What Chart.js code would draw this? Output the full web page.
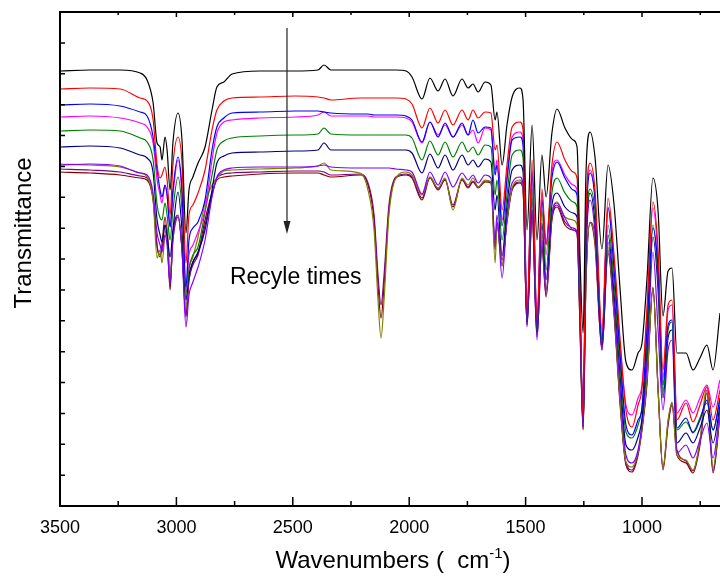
<!DOCTYPE html>
<html>
<head>
<meta charset="utf-8">
<script src="https://cdn.jsdelivr.net/npm/chart.js@4/dist/chart.umd.min.js"></script>
<style>
  html, body { margin: 0; padding: 0; background: #fff; overflow: hidden; }
  canvas { display: block; }
</style>
</head>
<body>
<canvas id="myChart" width="720" height="576"></canvas>
<script>
// FTIR spectra after each recycle (transmittance, arb. units)
var wavenumbers = [3500, 3371, 3242, 3156, 3126, 3100, 3083, 3070, 3062, 3049,
  3040, 3027, 3015, 2993, 2976, 2959, 2946, 2929, 2907, 2877,
  2847, 2826, 2796, 2761, 2641, 2491, 2392, 2366, 2336, 2211,
  2177, 2151, 2134, 2121, 2108, 2087, 2057, 2014, 1988, 1945,
  1911, 1876, 1846, 1812, 1773, 1747, 1726, 1704, 1674, 1649,
  1631, 1623, 1601, 1580, 1558, 1524, 1511, 1494, 1472, 1451,
  1430, 1412, 1387, 1365, 1331, 1296, 1279, 1266, 1253, 1241,
  1223, 1202, 1172, 1146, 1120, 1094, 1069, 1043, 1017, 1000,
  979, 953, 931, 910, 888, 871, 850, 811, 781, 751,
  721, 695, 665];

var black = [87.0, 87.2, 87.2, 86.6, 85.2, 80.6, 72.6, 71.8, 69.2, 73.8,
  71.2, 63.2, 72.6, 78.6, 73.2, 54.6, 63.2, 65.8, 68.6, 71.8,
  79.2, 83.8, 84.8, 86.4, 87.0, 87.0, 87.2, 88.2, 87.2, 87.2,
  87.2, 87.2, 87.2, 87.2, 87.2, 87.2, 87.2, 87.0, 85.8, 81.4,
  85.6, 83.0, 85.4, 82.0, 85.4, 83.6, 84.4, 82.8, 84.8, 84.2,
  77.2, 78.8, 68.2, 76.2, 81.8, 83.6, 81.2, 55.2, 76.2, 53.2,
  70.2, 61.8, 74.6, 79.4, 75.6, 73.2, 71.8, 49.2, 34.6, 66.2,
  74.8, 69.8, 51.4, 68.2, 60.2, 43.2, 28.8, 27.2, 30.6, 32.6,
  45.2, 65.6, 59.0, 38.0, 47.0, 47.6, 30.6, 30.6, 27.2, 29.6,
  32.2, 27.2, 38.6];

var red = [83.4, 83.6, 83.4, 81.6, 81.0, 77.2, 68.2, 65.6, 66.2, 67.8,
  65.2, 58.2, 68.2, 73.8, 68.6, 48.6, 58.2, 60.2, 62.6, 67.2,
  75.2, 79.2, 81.0, 81.6, 81.8, 82.0, 81.8, 81.6, 81.2, 81.6,
  81.6, 81.6, 81.6, 81.6, 81.6, 81.6, 81.6, 81.4, 80.4, 75.6,
  79.6, 76.6, 79.2, 76.2, 79.2, 77.2, 79.2, 77.6, 78.8, 78.6,
  71.2, 72.2, 59.2, 68.2, 75.8, 76.8, 75.2, 38.6, 69.2, 37.2,
  63.4, 52.2, 68.2, 72.8, 69.2, 66.8, 65.6, 41.2, 17.2, 57.2,
  68.6, 63.2, 35.2, 61.6, 50.2, 33.2, 19.2, 15.8, 20.2, 23.6,
  39.2, 60.8, 51.2, 27.2, 40.2, 41.2, 17.2, 20.6, 16.8, 20.2,
  23.8, 17.2, 23.2];

var blue = [80.2, 80.4, 80.0, 78.8, 78.0, 73.8, 67.2, 63.2, 61.8, 64.2,
  62.2, 55.8, 63.2, 69.8, 63.2, 43.8, 53.2, 55.6, 56.8, 61.2,
  71.2, 75.8, 77.6, 78.6, 78.8, 79.0, 79.0, 78.8, 78.6, 78.4,
  78.4, 78.2, 78.2, 78.2, 78.2, 78.2, 78.2, 78.0, 77.2, 72.8,
  76.8, 73.8, 76.6, 73.8, 76.6, 74.2, 77.2, 74.6, 75.8, 75.6,
  66.2, 68.2, 56.0, 65.2, 73.2, 73.8, 72.2, 37.6, 66.8, 36.2,
  61.2, 52.4, 65.6, 68.8, 65.6, 63.2, 62.2, 39.2, 16.6, 54.2,
  66.6, 61.2, 33.2, 59.6, 47.2, 30.2, 16.2, 14.2, 17.2, 19.6,
  35.2, 55.6, 47.2, 24.2, 36.2, 37.2, 15.6, 17.6, 14.6, 17.2,
  21.2, 15.2, 21.6];

var magenta = [77.8, 78.0, 77.6, 76.6, 75.8, 72.6, 65.2, 62.2, 60.6, 64.2,
  62.2, 55.8, 62.2, 69.2, 62.2, 43.2, 50.2, 52.2, 54.8, 59.2,
  69.2, 74.6, 76.8, 77.2, 77.6, 77.8, 78.2, 78.8, 78.0, 78.0,
  78.0, 77.8, 77.8, 77.8, 77.8, 77.8, 77.8, 77.6, 76.8, 72.6,
  76.8, 74.2, 76.2, 73.8, 76.2, 74.2, 75.2, 72.6, 75.6, 75.2,
  67.2, 69.2, 57.2, 66.2, 73.8, 74.8, 73.2, 37.6, 67.2, 36.2,
  62.6, 50.2, 66.8, 69.2, 66.2, 64.2, 63.2, 40.2, 16.2, 55.2,
  67.2, 61.8, 34.2, 59.8, 48.8, 32.2, 20.2, 18.2, 21.6, 24.2,
  38.2, 59.6, 49.2, 25.6, 39.2, 40.2, 18.6, 21.2, 18.6, 21.6,
  24.2, 19.8, 25.2];

var green = [75.0, 75.2, 75.0, 73.6, 72.8, 69.2, 60.2, 57.6, 57.2, 60.6,
  58.2, 53.2, 59.2, 65.8, 59.2, 42.6, 47.6, 50.2, 51.8, 58.8,
  66.2, 71.2, 73.0, 73.6, 74.0, 74.2, 74.4, 75.6, 74.4, 74.2,
  74.2, 74.2, 74.2, 74.2, 74.2, 74.2, 74.2, 74.2, 73.6, 69.2,
  73.0, 70.2, 72.8, 69.8, 72.8, 70.8, 71.8, 70.2, 72.2, 71.8,
  62.2, 65.2, 53.2, 62.2, 70.2, 71.2, 69.6, 37.2, 63.4, 35.2,
  59.2, 47.2, 62.6, 65.6, 62.6, 60.8, 59.8, 38.2, 16.2, 52.2,
  63.4, 58.8, 32.8, 56.2, 44.6, 28.2, 14.8, 13.6, 16.2, 19.8,
  33.2, 56.2, 45.2, 22.8, 35.2, 36.8, 15.2, 16.8, 14.8, 17.6,
  20.6, 15.2, 21.2];

var navy = [71.8, 72.0, 71.6, 70.2, 69.6, 66.6, 57.2, 54.2, 52.8, 56.2,
  54.2, 49.8, 55.2, 62.8, 55.2, 41.2, 46.2, 48.8, 50.8, 55.2,
  63.2, 68.6, 70.0, 70.6, 70.8, 71.0, 71.2, 72.6, 71.2, 71.2,
  71.2, 71.2, 71.2, 71.2, 71.2, 71.2, 71.2, 71.2, 70.6, 66.6,
  70.4, 67.6, 70.2, 67.2, 70.2, 68.2, 69.2, 67.8, 69.4, 68.8,
  59.2, 62.2, 50.0, 60.2, 67.2, 68.2, 66.8, 36.8, 61.6, 34.8,
  56.6, 45.2, 60.2, 62.6, 59.8, 58.6, 57.8, 37.6, 16.0, 50.2,
  62.6, 56.8, 32.2, 54.2, 42.6, 26.2, 12.2, 11.2, 13.8, 17.6,
  31.2, 53.8, 43.2, 21.6, 33.6, 35.2, 12.6, 14.6, 12.6, 15.6,
  19.2, 12.6, 20.2];

var violet = [68.2, 68.4, 68.0, 66.6, 66.2, 62.6, 54.6, 52.2, 50.8, 54.2,
  52.2, 44.6, 53.2, 57.8, 51.2, 35.8, 42.2, 44.8, 47.8, 53.2,
  61.8, 65.8, 67.2, 67.6, 67.8, 67.8, 68.0, 68.2, 67.8, 67.6,
  67.6, 67.6, 67.6, 67.6, 67.6, 67.6, 67.4, 67.2, 66.8, 62.4,
  66.8, 64.2, 66.8, 63.8, 66.6, 65.2, 66.2, 64.6, 66.2, 65.6,
  53.2, 58.2, 45.6, 58.2, 64.6, 65.8, 64.2, 35.8, 59.2, 33.2,
  53.2, 43.2, 58.2, 60.6, 57.6, 55.2, 54.6, 37.2, 15.8, 48.8,
  61.2, 54.8, 31.2, 52.8, 40.2, 23.2, 10.2, 8.6, 11.2, 16.6,
  28.2, 50.8, 35.2, 19.2, 31.2, 33.2, 10.6, 12.2, 9.6, 13.2,
  16.6, 9.6, 19.2];

var olive = [68.4, 68.2, 67.8, 66.6, 65.8, 61.2, 49.6, 51.2, 48.6, 54.2,
  55.8, 46.6, 53.2, 57.8, 52.2, 39.8, 47.2, 49.8, 53.8, 60.6,
  64.2, 65.6, 67.0, 67.2, 67.4, 67.6, 68.0, 68.6, 67.2, 66.6,
  63.2, 55.2, 41.2, 33.6, 41.2, 58.2, 65.6, 66.8, 66.2, 62.2,
  65.8, 63.6, 65.6, 59.2, 65.6, 64.2, 65.6, 63.8, 65.2, 64.8,
  48.6, 56.2, 48.2, 57.2, 63.6, 65.2, 63.6, 36.8, 59.2, 35.2,
  54.6, 43.2, 58.2, 60.8, 57.8, 57.2, 56.2, 35.2, 15.6, 45.2,
  56.6, 53.2, 32.2, 51.8, 39.2, 21.2, 8.8, 7.8, 10.8, 15.6,
  25.2, 43.6, 23.2, 7.6, 17.2, 20.8, 10.2, 9.2, 7.2, 13.2,
  24.2, 7.6, 19.2];

var purple = [67.4, 67.2, 66.8, 66.0, 65.6, 61.6, 52.2, 50.2, 51.2, 56.2,
  54.2, 44.2, 54.2, 58.2, 51.6, 38.2, 45.2, 48.2, 50.2, 56.2,
  62.2, 65.6, 66.4, 66.6, 66.8, 67.0, 67.0, 66.8, 66.2, 66.4,
  64.6, 58.2, 46.2, 40.2, 46.2, 60.2, 65.8, 66.4, 65.8, 61.6,
  65.8, 63.4, 65.4, 60.2, 65.4, 63.8, 65.0, 63.8, 65.0, 64.8,
  51.2, 56.8, 48.0, 57.2, 63.4, 64.8, 63.4, 36.2, 58.2, 33.8,
  52.2, 42.2, 57.6, 60.2, 56.8, 55.6, 54.8, 35.6, 15.4, 44.8,
  56.8, 53.6, 31.6, 51.2, 38.8, 20.8, 8.6, 7.2, 10.6, 15.6,
  24.8, 43.8, 23.6, 7.6, 16.8, 20.6, 11.2, 9.0, 7.0, 12.8,
  23.2, 7.0, 18.6];

var wine = [66.8, 66.6, 66.2, 65.6, 65.2, 61.2, 51.8, 49.8, 52.2, 57.8,
  54.2, 43.2, 54.2, 57.8, 51.2, 37.8, 45.2, 48.8, 50.6, 57.2,
  62.6, 65.2, 65.8, 66.0, 66.4, 66.6, 66.6, 66.2, 65.8, 66.2,
  64.2, 57.2, 44.2, 37.6, 44.2, 59.2, 65.6, 66.2, 65.6, 61.2,
  65.6, 63.2, 65.2, 59.8, 65.2, 63.6, 64.8, 63.6, 64.8, 64.6,
  51.8, 56.2, 49.2, 56.8, 63.2, 64.6, 63.2, 36.2, 57.8, 34.2,
  51.8, 41.8, 57.2, 59.8, 56.2, 55.2, 54.6, 35.2, 15.2, 44.2,
  56.6, 52.2, 31.2, 50.6, 38.2, 20.2, 8.2, 6.8, 10.2, 15.2,
  24.2, 43.6, 23.2, 7.2, 16.2, 20.2, 10.2, 8.6, 6.6, 12.2,
  22.6, 6.6, 18.2];

var majorTicks = [3500, 3000, 2500, 2000, 1500, 1000];
var minorTicks = [3250, 2750, 2250, 1750, 1250, 750];

var xMin = 665, xMax = 3500;
var yMin = 0, yMax = 98.8, yDivisions = 16;

// arrow + note, in data units
var arrowX = 2525, arrowTop = 95.6, arrowBottom = 54.4;
var noteX = 2770, noteY = 44.4, noteText = 'Recyle times';

var FONT = 'Arial, "Liberation Sans", sans-serif';

var series = [
  { data: black, color: '#000000' },
  { data: red, color: '#ff0000' },
  { data: blue, color: '#0000ff' },
  { data: magenta, color: '#ff00ff' },
  { data: green, color: '#008000' },
  { data: navy, color: '#000080' },
  { data: violet, color: '#8000ff' },
  { data: olive, color: '#808000' },
  { data: purple, color: '#800080' },
  { data: wine, color: '#800000' }
];

var datasets = series.map(function (s) {
  return {
    data: wavenumbers.map(function (w, i) { return { x: w, y: s.data[i] }; }),
    borderColor: s.color,
    borderWidth: 1.2,
    pointRadius: 0,
    fill: false,
    cubicInterpolationMode: 'monotone'
  };
});

// Origin-style frame: inward ticks, no y labels
var framePlugin = {
  id: 'frame',
  afterDatasetsDraw: function (chart) {
    var ctx = chart.ctx;
    var area = chart.chartArea;
    var xs = chart.scales.x;
    var ys = chart.scales.y;
    ctx.save();
    ctx.strokeStyle = '#000';
    ctx.lineWidth = 2;
    ctx.beginPath();
    ctx.moveTo(area.right + 2, area.top);
    ctx.lineTo(area.left, area.top);
    ctx.lineTo(area.left, area.bottom);
    ctx.lineTo(area.right + 2, area.bottom);
    ctx.stroke();

    ctx.lineWidth = 1.5;
    ctx.beginPath();
    majorTicks.forEach(function (v) {
      var px = xs.getPixelForValue(v);
      ctx.moveTo(px, area.bottom); ctx.lineTo(px, area.bottom - 9);
      ctx.moveTo(px, area.top); ctx.lineTo(px, area.top + 5);
    });
    minorTicks.forEach(function (v) {
      var px = xs.getPixelForValue(v);
      ctx.moveTo(px, area.bottom); ctx.lineTo(px, area.bottom - 5);
      ctx.moveTo(px, area.top); ctx.lineTo(px, area.top + 3);
    });
    for (var i = 1; i < yDivisions; i++) {
      var py = ys.getPixelForValue(yMin + i * (yMax - yMin) / yDivisions);
      ctx.moveTo(area.left, py); ctx.lineTo(area.left + 5, py);
    }
    ctx.stroke();

    // tick labels
    ctx.fillStyle = '#000';
    ctx.font = '18px ' + FONT;
    ctx.textAlign = 'center';
    ctx.textBaseline = 'alphabetic';
    majorTicks.forEach(function (v) {
      ctx.fillText(String(v), xs.getPixelForValue(v), area.bottom + 27);
    });

    // x title with superscript
    var t1 = 'Wavenumbers (  cm', t2 = '-1', t3 = ')';
    ctx.font = '24px ' + FONT;
    var w1 = ctx.measureText(t1).width, w3 = ctx.measureText(t3).width;
    ctx.font = '15px ' + FONT;
    var w2 = ctx.measureText(t2).width;
    var cx = (area.left + area.right) / 2 + 3;
    var sx = cx - (w1 + w2 + w3) / 2;
    ctx.textAlign = 'left';
    ctx.font = '24px ' + FONT;
    ctx.fillText(t1, sx, area.bottom + 62);
    ctx.font = '15px ' + FONT;
    ctx.fillText(t2, sx + w1, area.bottom + 52);
    ctx.font = '24px ' + FONT;
    ctx.fillText(t3, sx + w1 + w2, area.bottom + 62);

    // y title
    ctx.save();
    ctx.translate(31, 233);
    ctx.rotate(-Math.PI / 2);
    ctx.textAlign = 'center';
    ctx.fillText('Transmittance', 0, 0);
    ctx.restore();

    // arrow
    var ax = xs.getPixelForValue(arrowX);
    var ay0 = ys.getPixelForValue(arrowTop);
    var ay1 = ys.getPixelForValue(arrowBottom);
    ctx.strokeStyle = '#222';
    ctx.fillStyle = '#222';
    ctx.lineWidth = 1.2;
    ctx.beginPath();
    ctx.moveTo(ax, ay0);
    ctx.lineTo(ax, ay1 - 10);
    ctx.stroke();
    ctx.beginPath();
    ctx.moveTo(ax, ay1);
    ctx.lineTo(ax - 3.5, ay1 - 13);
    ctx.lineTo(ax + 3.5, ay1 - 13);
    ctx.closePath();
    ctx.fill();

    ctx.fillStyle = '#000';
    ctx.font = '23px ' + FONT;
    ctx.textAlign = 'left';
    ctx.fillText(noteText, xs.getPixelForValue(noteX), ys.getPixelForValue(noteY));
    ctx.restore();
  }
};

var chart = new Chart(document.getElementById('myChart'), {
  type: 'line',
  data: { datasets: datasets },
  options: {
    responsive: false,
    animation: false,
    layout: { padding: { left: 60, top: 12, right: 0, bottom: 70 } },
    plugins: { legend: { display: false }, tooltip: { enabled: false } },
    scales: {
      x: { type: 'linear', reverse: true, min: xMin, max: xMax, display: false },
      y: { type: 'linear', min: yMin, max: yMax, display: false }
    }
  },
  plugins: [framePlugin]
});
</script>
</body>
</html>
